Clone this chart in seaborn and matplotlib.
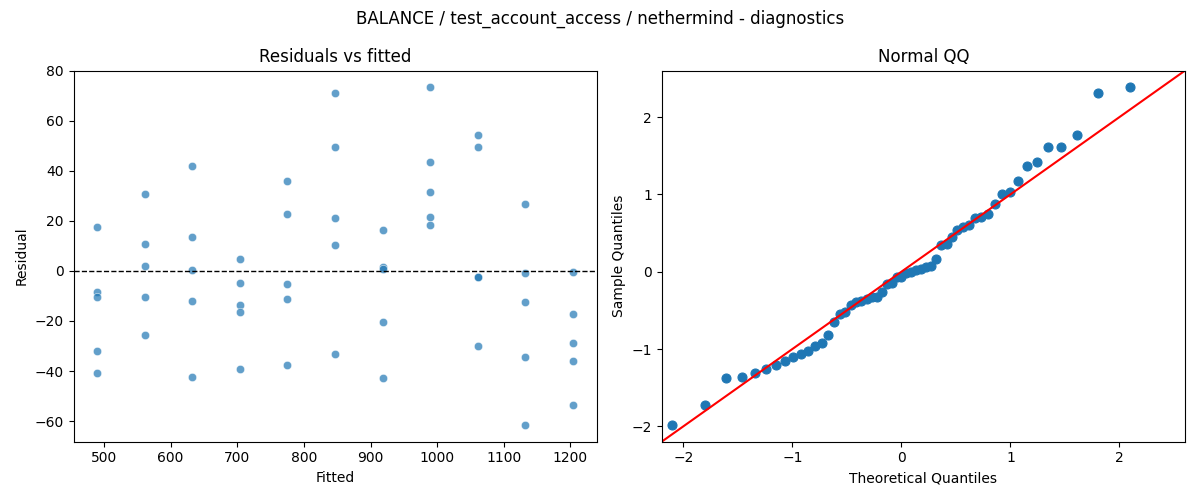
import numpy as np
import pandas as pd
import seaborn as sns
import matplotlib
matplotlib.use("Agg")
import matplotlib.pyplot as plt
from statistics import NormalDist

# fitted value of each group (one x position per group)
fitted_levels = [490, 561, 632, 704, 775, 847, 918, 990, 1061, 1132, 1204]

# residuals, one list per fitted level
resid_groups = [
    [17.5, -8.4, -10.5, -32.0, -40.8],
    [30.9, 10.6, 1.9, -10.5, -25.6],
    [42.1, 13.4, 0.3, -12.0, -42.2],
    [4.6, -4.8, -13.7, -16.5, -39.2],
    [36.1, 22.6, -5.3, -11.3, -37.6],
    [70.9, 49.7, 21.0, 10.2, -33.2],
    [16.2, 1.7, 0.9, -20.5, -42.8],
    [73.3, 43.7, 31.7, 21.4, 18.2],
    [54.4, 49.7, -2.3, -2.5, -30.0],
    [26.6, -0.9, -12.5, -34.3, -61.5],
    [-0.5, -17.3, -28.8, -36.0, -53.5],
]

title = "BALANCE / test_account_access / nethermind - diagnostics"

rows = []
for f, rs in zip(fitted_levels, resid_groups):
    for r in rs:
        rows.append((f, r))
df = pd.DataFrame(rows, columns=["fitted", "resid"])

# QQ: standardized residuals against normal quantiles
z = np.sort((df["resid"] - df["resid"].mean()) / df["resid"].std(ddof=0))
n = len(z)
nd = NormalDist()
theo = np.array([nd.inv_cdf(i / (n + 1)) for i in range(1, n + 1)])
qq = pd.DataFrame({"theo": theo, "sample": z})

fig, (ax1, ax2) = plt.subplots(1, 2, figsize=(12, 5), dpi=100)

sns.scatterplot(data=df, x="fitted", y="resid", alpha=0.7, ax=ax1)
ax1.axhline(0, color="black", linestyle="--", linewidth=1)
ax1.set_xlabel("Fitted")
ax1.set_ylabel("Residual")
ax1.set_title("Residuals vs fitted")

sns.scatterplot(data=qq, x="theo", y="sample", s=42, linewidth=0.8,
                edgecolor="C0", color="C0", ax=ax2)
pad = 0.05 * (z.max() - z.min())
lo, hi = z.min() - pad, z.max() + pad
ax2.plot([lo, hi], [lo, hi], color="red", linewidth=1.5)
ax2.set_xlim(lo, hi)
ax2.set_ylim(lo, hi)
ax2.set_xlabel("Theoretical Quantiles")
ax2.set_ylabel("Sample Quantiles")
ax2.set_title("Normal QQ")

fig.suptitle(title)
fig.tight_layout()
fig.savefig("out.png")
